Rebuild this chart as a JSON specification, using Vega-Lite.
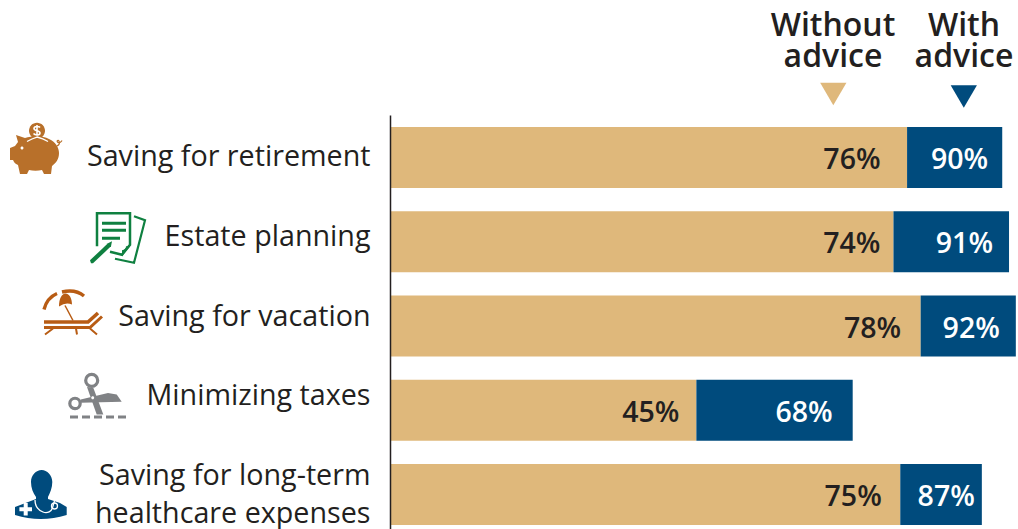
{
  "$schema": "https://vega.github.io/schema/vega-lite/v6.json",
  "width": 1018,
  "height": 529,
  "padding": 0,
  "autosize": {"type": "none"},
  "background": "white",
  "config": {"view": {"stroke": null}, "font": "Open Sans"},
  "datasets": {
    "shares": [
      {"need": "Saving for retirement", "without": 0.76, "with": 0.90},
      {"need": "Estate planning", "without": 0.74, "with": 0.91},
      {"need": "Saving for vacation", "without": 0.78, "with": 0.92},
      {"need": "Minimizing taxes", "without": 0.45, "with": 0.68},
      {"need": "Saving for long-term healthcare expenses", "without": 0.75, "with": 0.87}
    ],
    "solidGlyphs": [
      {"need": "Saving for retirement", "glyph": "pigBody"},
      {"need": "Saving for retirement", "glyph": "pigCoin"},
      {"need": "Saving for retirement", "glyph": "pigEye"},
      {"need": "Estate planning", "glyph": "docFold"},
      {"need": "Estate planning", "glyph": "docPen"},
      {"need": "Saving for vacation", "glyph": "shade"},
      {"need": "Minimizing taxes", "glyph": "bladeA"},
      {"need": "Minimizing taxes", "glyph": "bladeB"},
      {"need": "Minimizing taxes", "glyph": "pivot"},
      {"need": "Saving for long-term healthcare expenses", "glyph": "doctor"},
      {"need": "Saving for long-term healthcare expenses", "glyph": "cross"}
    ],
    "lineGlyphs": [
      {"need": "Saving for retirement", "glyph": "pigSlot"},
      {"need": "Saving for retirement", "glyph": "dollar"},
      {"need": "Saving for retirement", "glyph": "pigTail"},
      {"need": "Estate planning", "glyph": "docPage"},
      {"need": "Estate planning", "glyph": "docBack"},
      {"need": "Estate planning", "glyph": "docLines"},
      {"need": "Saving for vacation", "glyph": "shadeLeft"},
      {"need": "Saving for vacation", "glyph": "shadeRight"},
      {"need": "Saving for vacation", "glyph": "pole"},
      {"need": "Saving for vacation", "glyph": "loungerTop"},
      {"need": "Saving for vacation", "glyph": "loungerBase"},
      {"need": "Saving for vacation", "glyph": "loungerLegs"},
      {"need": "Minimizing taxes", "glyph": "ringA"},
      {"need": "Minimizing taxes", "glyph": "ringB"},
      {"need": "Minimizing taxes", "glyph": "cutLine"},
      {"need": "Saving for long-term healthcare expenses", "glyph": "tube"},
      {"need": "Saving for long-term healthcare expenses", "glyph": "chestpiece"}
    ],
    "columns": [
      {"series": "Without\nadvice"},
      {"series": "With\nadvice"}
    ]
  },
  "resolve": {"scale": {"x": "independent", "y": "independent", "shape": "independent", "fill": "independent", "stroke": "independent"}},
  "layer": [
    {
      "data": {"name": "shares"},
      "mark": {"type": "bar", "fill": "#dfb87b"},
      "encoding": {
        "y": {
          "field": "need", "type": "nominal", "sort": null,
          "scale": {"type": "band", "range": [115, 529], "paddingInner": 0.276, "paddingOuter": 0.095, "align": 0.75},
          "axis": {
            "title": null, "offset": -390, "ticks": false, "zindex": 1,
            "domainColor": "#231f20", "domainWidth": 1.5,
            "labelFont": "Open Sans", "labelFontSize": 28.7, "labelColor": "#231f20",
            "labelPadding": 20, "labelLimit": 400, "labelOverlap": false, "labelLineHeight": 38,
            "labelBaseline": "middle",
            "labelOffset": {"expr": "datum.value == 'Saving for retirement' ? -1 : datum.value == 'Estate planning' ? -4.5 : datum.value == 'Saving for vacation' ? -9 : datum.value == 'Minimizing taxes' ? -14.5 : -19"},
            "labelExpr": "datum.value == 'Saving for long-term healthcare expenses' ? ['Saving for long-term', 'healthcare expenses'] : datum.value"
          }
        },
        "x": {"field": "without", "type": "quantitative", "scale": {"domain": [0, 0.9232], "range": [390.5, 1018], "nice": false, "zero": false}, "axis": null},
        "x2": {"datum": 0}
      }
    },
    {
      "data": {"name": "shares"},
      "mark": {"type": "bar", "fill": "#004b7d"},
      "encoding": {
        "y": {"field": "need", "type": "nominal", "sort": null, "scale": {"type": "band", "range": [115, 529], "paddingInner": 0.276, "paddingOuter": 0.095, "align": 0.75}, "axis": null},
        "x": {"field": "without", "type": "quantitative", "scale": {"domain": [0, 0.9232], "range": [390.5, 1018], "nice": false, "zero": false}, "axis": null},
        "x2": {"field": "with"}
      }
    },
    {
      "data": {"name": "shares"},
      "mark": {"type": "text", "align": "right", "baseline": "middle", "dy": 2.7,
        "dx": {"expr": "datum.need == 'Saving for retirement' ? -26.5 : datum.need == 'Estate planning' ? -13 : datum.need == 'Saving for vacation' ? -19.5 : datum.need == 'Minimizing taxes' ? -17 : -18.5"},
        "fontSize": 28.5, "fontWeight": 600, "fill": "#231f20"},
      "encoding": {
        "y": {"field": "need", "type": "nominal", "sort": null, "scale": {"type": "band", "range": [115, 529], "paddingInner": 0.276, "paddingOuter": 0.095, "align": 0.75}, "axis": null},
        "x": {"field": "without", "type": "quantitative", "scale": {"domain": [0, 0.9232], "range": [390.5, 1018], "nice": false, "zero": false}, "axis": null},
        "text": {"field": "without", "type": "quantitative", "format": ".0%"}
      }
    },
    {
      "data": {"name": "shares"},
      "mark": {"type": "text", "align": "right", "baseline": "middle", "dy": 2.7,
        "dx": {"expr": "datum.need == 'Saving for retirement' ? -14 : datum.need == 'Estate planning' ? -16 : datum.need == 'Saving for vacation' ? -16 : datum.need == 'Minimizing taxes' ? -20 : -7"},
        "fontSize": 28.5, "fontWeight": 600, "fill": "white"},
      "encoding": {
        "y": {"field": "need", "type": "nominal", "sort": null, "scale": {"type": "band", "range": [115, 529], "paddingInner": 0.276, "paddingOuter": 0.095, "align": 0.75}, "axis": null},
        "x": {"field": "with", "type": "quantitative", "scale": {"domain": [0, 0.9232], "range": [390.5, 1018], "nice": false, "zero": false}, "axis": null},
        "text": {"field": "with", "type": "quantitative", "format": ".0%"}
      }
    },
    {
      "data": {"name": "solidGlyphs"},
      "mark": {"type": "point", "filled": true, "opacity": 1, "size": 4, "strokeWidth": 0},
      "encoding": {
        "y": {"field": "need", "type": "nominal", "scale": {"type": "band", "domain": ["Saving for retirement", "Estate planning", "Saving for vacation", "Minimizing taxes", "Saving for long-term healthcare expenses"], "range": [115, 529], "paddingInner": 0.276, "paddingOuter": 0.095, "align": 0.75}, "axis": null},
        "x": {"datum": 0, "type": "quantitative", "scale": {"domain": [0, 0.9232], "range": [391, 1018], "nice": false, "zero": false}, "axis": null},
        "fill": {"field": "glyph", "type": "nominal", "legend": null, "scale": {
          "domain": ["pigBody", "pigCoin", "pigEye", "docFold", "docPen", "shade", "bladeA", "bladeB", "pivot", "doctor", "cross"],
          "range": ["#b8702a", "#b8702a", "#ffffff", "#0f8040", "#0f8040", "#b85c14", "#808285", "#808285", "#ffffff", "#004b7d", "#ffffff"]
        }},
        "shape": {"field": "glyph", "type": "nominal", "legend": null, "scale": {
          "domain": ["pigBody", "pigCoin", "pigEye", "docFold", "docPen", "shade", "bladeA", "bladeB", "pivot", "doctor", "cross"],
          "range": [
            "M-381,-9.5 l5,-2 l3,-4 l-2,-7 l9,3 c8,-2 18,-2 24,1 c7,3 10,9 10,14 c0,6 -3,10 -7,13 l-1,8 l-7,0 l-2,-4 c-4,1 -9,1 -13,0 l-2,4 l-7,0 l-2,-9 c-3,-1 -4,-3 -5,-5 l-3,0 z",
            "M-362,-26.8 a8,8 0 1,0 16,0 a8,8 0 1,0 -16,0 z",
            "M-370.5,-9.5 a1.5,1.5 0 1,0 3,0 a1.5,1.5 0 1,0 -3,0 z",
            "M-269,14.5 l0,-6 q4,-1 4,-4 l4,0 z",
            "M-301,18.5 l18,-17 l4,-2 l-1,5 l-18,17 l-2,0 z",
            "M-332,-19.5 c0,-8 3,-13 6.5,-13 c4,0 6.5,5 6.5,11 q-6,-3 -13,2 z",
            "M-310.3,-10.8 l27.3,-6.4 l8.7,1.4 l5,7.3 l-41,1 z",
            "M-304,-23.2 l6.3,0.7 l10,26.7 l-6.6,0 z",
            "M-299.8,-12.5 a1.5,1.5 0 1,0 3,0 a1.5,1.5 0 1,0 -3,0 z",
            "M-376,20.5 l0,-8 l21,-8 l0,-2 c-3,-4 -5,-9 -5,-15 c0,-7 5,-12 10.7,-12 c5.3,0 10.6,5 10.6,12 c0,6 -2.3,11 -4.3,15 l0,2 l12,4 l6.7,4 l0,8 q-26,8 -51.7,0 z",
            "M-367.3,8.5 l4,0 l0,4.3 l4.3,0 l0,4 l-4.3,0 l0,4.3 l-4,0 l0,-4.3 l-4.3,0 l0,-4 l4.3,0 z"
          ]
        }}
      }
    },
    {
      "data": {"name": "lineGlyphs"},
      "mark": {"type": "point", "filled": false, "opacity": 1, "size": 4, "fill": null},
      "encoding": {
        "y": {"field": "need", "type": "nominal", "scale": {"type": "band", "domain": ["Saving for retirement", "Estate planning", "Saving for vacation", "Minimizing taxes", "Saving for long-term healthcare expenses"], "range": [115, 529], "paddingInner": 0.276, "paddingOuter": 0.095, "align": 0.75}, "axis": null},
        "x": {"datum": 0, "type": "quantitative", "scale": {"domain": [0, 0.9232], "range": [391, 1018], "nice": false, "zero": false}, "axis": null},
        "stroke": {"field": "glyph", "type": "nominal", "legend": null, "scale": {
          "domain": ["pigSlot", "dollar", "pigTail", "docPage", "docBack", "docLines", "shadeLeft", "shadeRight", "pole", "loungerTop", "loungerBase", "loungerLegs", "ringA", "ringB", "cutLine", "tube", "chestpiece"],
          "range": ["#ffffff", "#ffffff", "#b8702a", "#0f8040", "#0f8040", "#0f8040", "#b85c14", "#b85c14", "#b85c14", "#b85c14", "#b85c14", "#b85c14", "#808285", "#808285", "#808285", "#ffffff", "#ffffff"]
        }},
        "strokeWidth": {"field": "glyph", "type": "nominal", "legend": null, "scale": {
          "type": "ordinal",
          "domain": ["pigSlot", "dollar", "pigTail", "docPage", "docBack", "docLines", "shadeLeft", "shadeRight", "pole", "loungerTop", "loungerBase", "loungerLegs", "ringA", "ringB", "cutLine", "tube", "chestpiece"],
          "range": [1.3, 1.6, 1.2, 2.5, 2.2, 3, 3.4, 3.4, 1.5, 3.6, 3, 2, 3.2, 3.2, 3, 1.3, 1.3]
        }},
        "shape": {"field": "glyph", "type": "nominal", "legend": null, "scale": {
          "domain": ["pigSlot", "dollar", "pigTail", "docPage", "docBack", "docLines", "shadeLeft", "shadeRight", "pole", "loungerTop", "loungerBase", "loungerLegs", "ringA", "ringB", "cutLine", "tube", "chestpiece"],
          "range": [
            "M-364,-16 q5,-3 10,-4.5 q6,1.5 11,4.5",
            "M-351,-30 c-1,-1.5 -6,-1.5 -6,1 c0,3 6,1.5 6,4.5 c0,2.5 -5,2.5 -6.5,0.5 M-354,-32.5 l0,10",
            "M-334,-11.5 c2,-1 3,-3 2,-5 c-1,-1.5 -3,0 -1,1.5 c1,0.5 3,0 4,-2",
            "M-294,4.5 l0,-33 l33,0 l0,31.5 l-8,10 l-12,-3",
            "M-257,-25.5 l11,4 l-11,42.5 l-19,-4",
            "M-289,-18.5 l24,0 M-289,-11.5 l24,0 M-289,-3.5 l18,0",
            "M-347,-16.5 c2,-8 6,-13 13,-16",
            "M-329,-34 c8,-2 16,-1 22,4",
            "M-326,-20.5 l8,15",
            "M-347,-4 l44,0 l10,-9",
            "M-347,1.5 l46,0 l12,-11",
            "M-338,2.5 l-8,6 M-301,2.5 l7,6 M-315,2.5 l1,6",
            "M-305.3,-29.8 a6,6 0 1,0 12,0 a6,6 0 1,0 -12,0 z",
            "M-321.2,-6.8 a5.2,5.2 0 1,0 10.4,0 a5.2,5.2 0 1,0 -10.4,0 z",
            "M-321,6.8 l8,0 m4,0 l8,0 m4,0 l8,0 m4,0 l8,0 m4,0 l8,0",
            "M-356,5.5 c0,6 3,10 8,12 c4,1.5 9,0 10,-6 l1.5,-5",
            "M-339.5,11.5 a3,3 0 1,0 6,0 a3,3 0 1,0 -6,0 z"
          ]
        }}
      }
    },
    {
      "data": {"name": "columns"},
      "mark": {"type": "text", "align": "center", "baseline": "middle", "lineBreak": "\n", "lineHeight": 30.5, "fontSize": 32, "fontWeight": 600, "fill": "#231f20"},
      "encoding": {
        "x": {"field": "series", "type": "nominal", "sort": null, "scale": {"type": "point", "padding": 0, "range": [833, 964]}, "axis": null},
        "y": {"field": "series", "type": "nominal", "sort": null, "scale": {"type": "point", "padding": 0, "range": [26, 26]}, "axis": null},
        "text": {"field": "series"}
      }
    },
    {
      "data": {"name": "columns"},
      "mark": {"type": "point", "filled": true, "opacity": 1, "shape": "triangle-down", "size": 690},
      "encoding": {
        "x": {"field": "series", "type": "nominal", "sort": null, "scale": {"type": "point", "padding": 0, "range": [833.3, 963.8]}, "axis": null},
        "y": {"field": "series", "type": "nominal", "sort": null, "scale": {"type": "point", "padding": 0, "range": [94, 96.5]}, "axis": null},
        "fill": {"field": "series", "type": "nominal", "sort": null, "legend": null, "scale": {"range": ["#dfb87b", "#004b7d"]}}
      }
    }
  ]
}
